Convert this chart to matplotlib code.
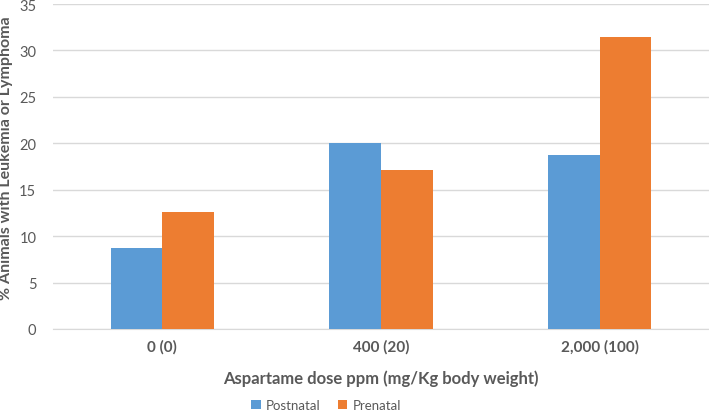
import numpy as np
import matplotlib
matplotlib.use('Agg')
import matplotlib.pyplot as plt

plt.rcParams['font.family'] = ['Lato', 'DejaVu Sans']

# data
doses = ['0 (0)', '400 (20)', '2,000 (100)']
postnatal = [8.7, 20.0, 18.7]
prenatal = [12.6, 17.1, 31.4]

grey = '#595959'
fig = plt.figure(figsize=(7.09, 4.14), dpi=100)
ax = fig.add_axes([53/709, 1 - 330/414, 656/709, 325/414])

x = np.arange(len(doses))
w = 0.237
ax.bar(x - w/2, postnatal, w, color='#5B9BD5', label='Postnatal', zorder=3)
ax.bar(x + w/2, prenatal, w, color='#ED7D31', label='Prenatal', zorder=3)

ax.set_xlim(-0.5, len(doses) - 0.5)
ax.set_ylim(0, 35)
ax.set_yticks(range(0, 36, 5))
ax.yaxis.grid(True, color='#D9D9D9', linewidth=1, zorder=0)
for s in ['top', 'right', 'left']:
    ax.spines[s].set_visible(False)
ax.spines['bottom'].set_color('#D9D9D9')
ax.tick_params(axis='both', length=0, colors=grey)
ax.tick_params(axis='y', labelsize=10.5, pad=12)
ax.tick_params(axis='x', pad=7)
ax.set_xticks(x)
ax.set_xticklabels(doses, fontsize=11, fontweight='bold', color=grey)

ax.set_xlabel('Aspartame dose ppm (mg/Kg body weight)', fontsize=12,
              fontweight='bold', color=grey, labelpad=12)
ax.set_ylabel('% Animals with Leukemia or Lymphoma', fontsize=11.5,
              fontweight='bold', color=grey)
ax.yaxis.set_label_coords(-53/656 + 13/656, 0.53)

fig.legend(loc='lower center', bbox_to_anchor=(0.46, -0.025), ncol=2,
           frameon=False, fontsize=9.5, handlelength=0.7, handleheight=0.7,
           handletextpad=0.4, columnspacing=1.3, labelcolor=grey)

fig.savefig('out.png', dpi=100)
